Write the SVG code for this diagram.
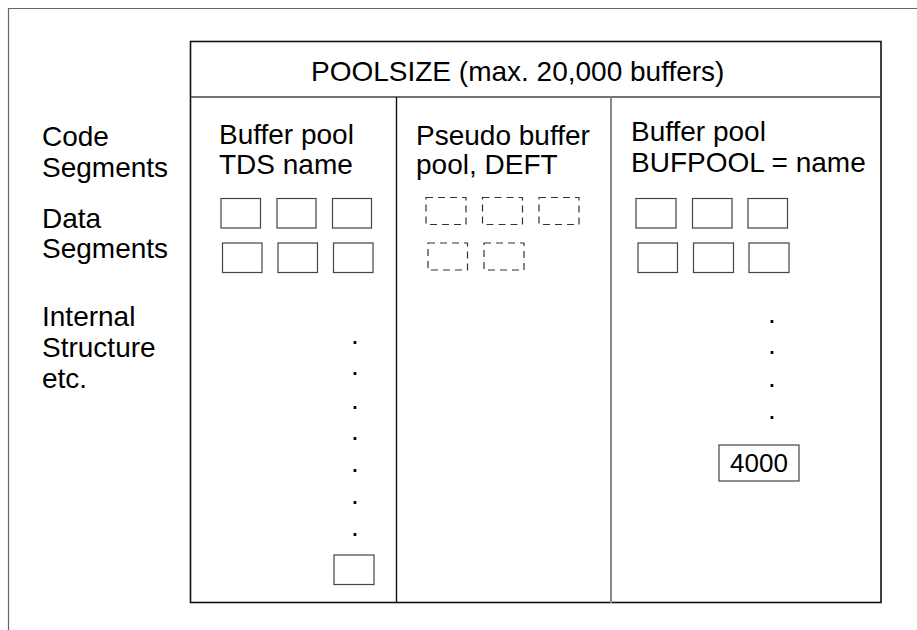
<svg xmlns="http://www.w3.org/2000/svg" width="917" height="630" viewBox="0 0 917 630">
<style>
text{font-family:"Liberation Sans",Arial,sans-serif;font-size:28px;fill:#000}
.buf{fill:#fff;stroke:#444;stroke-width:1.2}
.pseudo{fill:none;stroke:#333;stroke-width:1.2;stroke-dasharray:7 5}
.dot{text-anchor:middle}
</style>
<rect x="0" y="0" width="917" height="630" fill="#fff"/>
<g id="frame">
<path d="M8.5 630 V8.5 H917" fill="none" stroke="#666" stroke-width="1.2"/>
</g>
<g id="poolsize">
<rect x="190.5" y="41.5" width="690.5" height="561" fill="none" stroke="#111" stroke-width="1.6"/>
<line x1="190.5" y1="97" x2="881" y2="97" stroke="#444" stroke-width="1.4"/>
<text x="311" y="81">POOLSIZE (max. 20,000 buffers)</text>
</g>
<g id="labels">
<text x="42" y="146">Code</text>
<text x="42" y="177">Segments</text>
<text x="42" y="228">Data</text>
<text x="42" y="258">Segments</text>
<text x="42" y="326">Internal</text>
<text x="42" y="357">Structure</text>
<text x="42" y="388">etc.</text>
</g>
<g id="connectors">
<line x1="396.5" y1="97" x2="396.5" y2="603" stroke="#111" stroke-width="1.4"/>
<line x1="611" y1="97" x2="611" y2="603" stroke="#888" stroke-width="2"/>
</g>
<g id="tds-pool">
<text x="219" y="144">Buffer pool</text>
<text x="219" y="174">TDS name</text>
<rect class="buf" x="221" y="198.5" width="39.5" height="29.5"/>
<rect class="buf" x="277" y="198.5" width="39" height="29.5"/>
<rect class="buf" x="332.5" y="198.5" width="39" height="29.5"/>
<rect class="buf" x="222.5" y="243" width="39.5" height="29.5"/>
<rect class="buf" x="278" y="243" width="39.5" height="29.5"/>
<rect class="buf" x="333.5" y="243" width="39.5" height="29.5"/>
<text class="dot" x="355" y="343.5">.</text>
<text class="dot" x="355" y="375">.</text>
<text class="dot" x="355" y="408.5">.</text>
<text class="dot" x="355" y="440">.</text>
<text class="dot" x="355" y="472">.</text>
<text class="dot" x="355" y="504">.</text>
<text class="dot" x="355" y="536">.</text>
<rect class="buf" x="334" y="555" width="40" height="29.5"/>
</g>
<g id="deft-pool">
<text x="416" y="145">Pseudo buffer</text>
<text x="416" y="174">pool, DEFT</text>
<rect class="pseudo" x="426" y="197.5" width="40" height="27"/>
<rect class="pseudo" x="482.5" y="197.5" width="40" height="27"/>
<rect class="pseudo" x="539" y="197.5" width="40" height="27"/>
<rect class="pseudo" x="428" y="243" width="39.5" height="27"/>
<rect class="pseudo" x="484" y="243" width="40" height="27"/>
</g>
<g id="bufpool">
<text x="631" y="141">Buffer pool</text>
<text x="631" y="172">BUFPOOL = name</text>
<rect class="buf" x="636" y="198.5" width="40" height="29.5"/>
<rect class="buf" x="692.5" y="198.5" width="39.5" height="29.5"/>
<rect class="buf" x="748" y="198.5" width="39.5" height="29.5"/>
<rect class="buf" x="638" y="243" width="39.5" height="29.5"/>
<rect class="buf" x="693.5" y="243" width="40" height="29.5"/>
<rect class="buf" x="749" y="243" width="40" height="29.5"/>
<text class="dot" x="772" y="322.5">.</text>
<text class="dot" x="772" y="354">.</text>
<text class="dot" x="772" y="387">.</text>
<text class="dot" x="772" y="419">.</text>
<rect class="buf" x="719" y="445" width="80" height="36"/>
<text x="759" y="472" text-anchor="middle" style="font-size:26px">4000</text>
</g>
</svg>
